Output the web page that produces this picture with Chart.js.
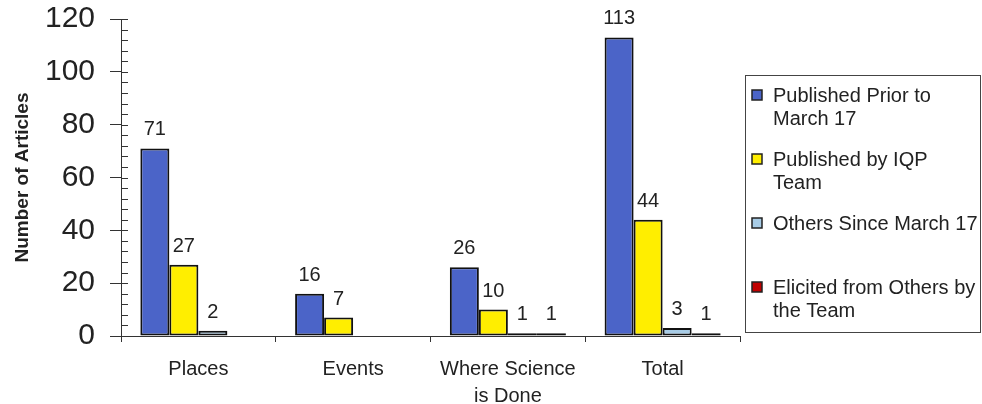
<!DOCTYPE html>
<html>
<head>
<meta charset="utf-8">
<script src="https://cdn.jsdelivr.net/npm/chart.js@4.4.1/dist/chart.umd.min.js"></script>
<style>
  html, body { margin: 0; padding: 0; background: #ffffff; }
  #wrap { width: 982px; height: 404px; }
</style>
</head>
<body>
<div id="wrap"><canvas id="chart" width="982" height="404"></canvas></div>
<script>
// Article counts by topic
const categories = ['Places', 'Events', ['Where Science', 'is Done'], 'Total'];
const publishedPrior = [71, 16, 26, 113];
const publishedByTeam = [27, 7, 10, 44];
const othersSince = [2, null, 1, 3];
const elicitedByTeam = [null, null, 1, 1];

// Legend entries, split over lines as printed
const seriesNames = [
  ['Published Prior to', 'March 17'],
  ['Published by IQP', 'Team'],
  ['Others Since March 17'],
  ['Elicited from Others by', 'the Team']
];

// Value axis
const yMin = 0;
const yMax = 120;
const yStep = 20;
const yMinorStep = 4;

const FONT = '"Liberation Sans", Arial, Helvetica, sans-serif';
const INK = '#222222';
const AXIS = '#333333';

const seriesValues = [publishedPrior, publishedByTeam, othersSince, elicitedByTeam];
const seriesColors = ['#4B64C8', '#FFEE00', '#A8CCE6', '#C00000'];

// Minor tick marks on the inner side of the value axis
const minorTicks = {
  id: 'minorTicks',
  afterDraw(chart) {
    const y = chart.scales.y;
    const ctx = chart.ctx;
    const x0 = chart.chartArea.left;
    ctx.save();
    ctx.strokeStyle = AXIS;
    ctx.lineWidth = 1;
    for (let v = yMin; v <= yMax; v += yMinorStep) {
      const py = Math.round(y.getPixelForValue(v)) + 0.5;
      ctx.beginPath();
      ctx.moveTo(x0, py);
      ctx.lineTo(x0 + 7, py);
      ctx.stroke();
    }
    ctx.restore();
  }
};

// Value printed above each bar
const barValues = {
  id: 'barValues',
  afterDatasetsDraw(chart) {
    const ctx = chart.ctx;
    ctx.save();
    ctx.font = '20px ' + FONT;
    ctx.fillStyle = INK;
    ctx.textAlign = 'center';
    ctx.textBaseline = 'alphabetic';
    chart.data.datasets.forEach((ds, di) => {
      const meta = chart.getDatasetMeta(di);
      meta.data.forEach((bar, i) => {
        const v = ds.data[i];
        if (v === null || v === undefined) return;
        ctx.fillText(String(v), bar.x, bar.y - 13);
      });
    });
    ctx.restore();
  }
};

// Boxed legend at the right, with wrapped entries
const boxedLegend = {
  id: 'boxedLegend',
  afterDraw(chart) {
    const ctx = chart.ctx;
    const left = chart.chartArea.right + 5;
    const right = chart.width - 1;
    const top = 75;
    const bottom = 332;
    ctx.save();
    ctx.strokeStyle = '#444444';
    ctx.lineWidth = 1;
    ctx.strokeRect(left + 0.5, top + 0.5, right - left - 1, bottom - top);
    ctx.font = '20px ' + FONT;
    ctx.textAlign = 'left';
    ctx.textBaseline = 'middle';
    chart.data.datasets.forEach((ds, i) => {
      const cy = top + 21 + i * 64;
      ctx.fillStyle = ds.backgroundColor;
      ctx.fillRect(left + 7, cy - 6, 10, 10);
      ctx.strokeStyle = '#222222';
      ctx.lineWidth = 1.5;
      ctx.strokeRect(left + 7, cy - 6, 10, 10);
      ctx.fillStyle = INK;
      seriesNames[i].forEach((line, li) => {
        ctx.fillText(line, left + 28, cy + li * 23);
      });
    });
    ctx.restore();
  }
};

new Chart(document.getElementById('chart'), {
  type: 'bar',
  data: {
    labels: categories,
    datasets: seriesValues.map((vals, i) => ({
      label: seriesNames[i].join(' '),
      data: vals,
      backgroundColor: seriesColors[i],
      borderColor: '#111111',
      borderWidth: 2,
      borderSkipped: false,
      barPercentage: 1,
      categoryPercentage: 0.75
    }))
  },
  options: {
    responsive: false,
    animation: false,
    devicePixelRatio: 1,
    layout: { padding: { left: 0, right: 242, top: 19, bottom: 0 } },
    plugins: {
      legend: { display: false },
      tooltip: { enabled: false }
    },
    scales: {
      x: {
        grid: {
          display: true,
          drawOnChartArea: false,
          drawTicks: true,
          tickLength: 6,
          color: AXIS,
          offset: true
        },
        border: { display: true, color: AXIS, width: 1 },
        ticks: {
          font: { size: 20, family: FONT, lineHeight: 1.35 },
          color: INK,
          padding: 14,
          maxRotation: 0
        },
        afterFit(scale) { scale.height = 68; }
      },
      y: {
        min: yMin,
        max: yMax,
        ticks: {
          stepSize: yStep,
          font: { size: 30, family: FONT },
          color: INK,
          padding: 15
        },
        grid: {
          display: true,
          drawOnChartArea: false,
          drawTicks: true,
          tickLength: 11,
          color: AXIS
        },
        border: { display: true, color: AXIS, width: 1 },
        title: {
          display: true,
          text: 'Number of Articles',
          font: { size: 19, weight: 'bold', family: FONT },
          color: INK,
          padding: { top: 11, bottom: 0 }
        },
        afterFit(scale) {
          scale.width = 121;
          scale.paddingTop = 0;
          scale.paddingBottom = 0;
        }
      }
    }
  },
  plugins: [minorTicks, barValues, boxedLegend]
});
</script>
</body>
</html>
